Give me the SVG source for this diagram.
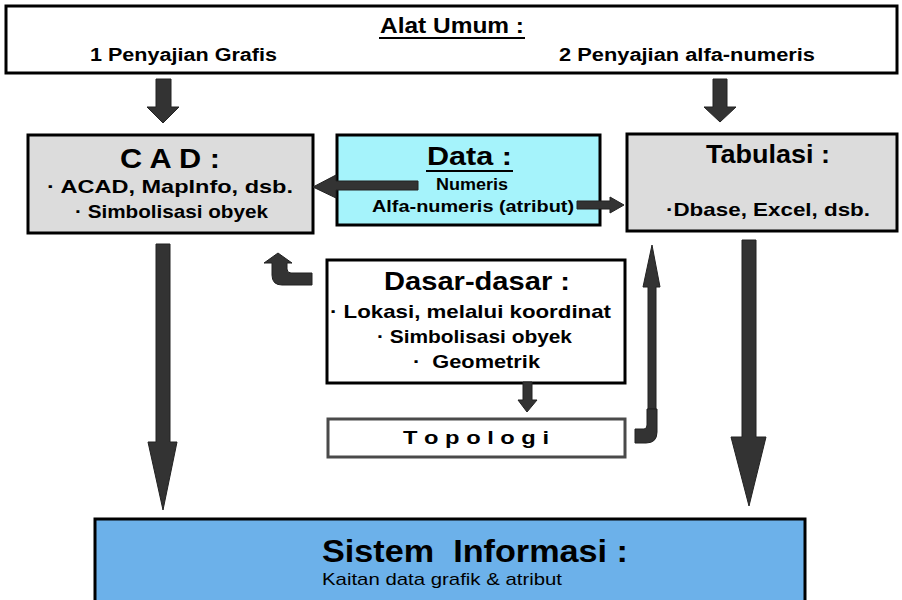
<svg xmlns="http://www.w3.org/2000/svg" width="902" height="600" viewBox="0 0 902 600">
<style>
text{font-family:"Liberation Sans",Arial,sans-serif;font-weight:bold;fill:#000}
.box{stroke:#000;stroke-width:3}
.arr{fill:#333;stroke:#222;stroke-width:1}
.t22{font-size:26px}
.t17{font-size:19px}
.t15{font-size:17px}
</style>
<rect width="902" height="600" fill="#fff"/>
<g id="alat-umum">
<rect class="box" x="6" y="6" width="891" height="67" fill="#fff"/>
<text x="380" y="33" style="font-size:22px" textLength="144" lengthAdjust="spacingAndGlyphs">Alat Umum :</text>
<line x1="379" y1="38" x2="525" y2="38" stroke="#000" stroke-width="2"/>
<text x="90" y="61" style="font-size:18px" textLength="187" lengthAdjust="spacingAndGlyphs">1 Penyajian Grafis</text>
<text x="559" y="61" style="font-size:18px" textLength="256" lengthAdjust="spacingAndGlyphs">2 Penyajian alfa-numeris</text>
</g>
<g id="cad">
<rect class="box" x="28" y="135" width="285" height="98" fill="#dcdcdc"/>
<text x="120" y="168" style="font-size:27px" textLength="100" lengthAdjust="spacingAndGlyphs">C A D :</text>
<text x="47" y="193" class="t17" textLength="246" lengthAdjust="spacingAndGlyphs">· ACAD, MapInfo, dsb.</text>
<text x="75" y="218" class="t17" textLength="193" lengthAdjust="spacingAndGlyphs">· Simbolisasi obyek</text>
</g>
<g id="data">
<rect class="box" x="337" y="135" width="263" height="90" fill="#a5f3fb"/>
<text x="427" y="165" class="t22" textLength="85" lengthAdjust="spacingAndGlyphs">Data :</text>
<line x1="426" y1="171" x2="513" y2="171" stroke="#000" stroke-width="2"/>
<text x="436" y="190" class="t15" textLength="72" lengthAdjust="spacingAndGlyphs">Numeris</text>
<text x="372" y="212" class="t15" textLength="202" lengthAdjust="spacingAndGlyphs">Alfa-numeris (atribut)</text>
</g>
<g id="tabulasi">
<rect class="box" x="627" y="134" width="270" height="97" fill="#dcdcdc"/>
<text x="706" y="163" class="t22" textLength="124" lengthAdjust="spacingAndGlyphs">Tabulasi :</text>
<text x="666" y="216" class="t17" textLength="204" lengthAdjust="spacingAndGlyphs">·Dbase, Excel, dsb.</text>
</g>
<g id="dasar-dasar">
<rect class="box" x="327" y="260" width="298" height="123" fill="#fff"/>
<text x="384" y="290" class="t22" textLength="186" lengthAdjust="spacingAndGlyphs">Dasar-dasar :</text>
<text x="330" y="318" class="t17" textLength="281" lengthAdjust="spacingAndGlyphs">· Lokasi, melalui koordinat</text>
<text x="377" y="343" class="t17" textLength="195" lengthAdjust="spacingAndGlyphs">· Simbolisasi obyek</text>
<text x="413" y="368" class="t17" textLength="127" lengthAdjust="spacingAndGlyphs" xml:space="preserve">·  Geometrik</text>
</g>
<g id="topologi">
<rect x="328" y="419" width="297" height="38" fill="#fff" stroke="#4a4a4a" stroke-width="3"/>
<text x="403" y="444" class="t17" textLength="146" lengthAdjust="spacingAndGlyphs">T o p o l o g i</text>
</g>
<g id="sistem-informasi">
<rect class="box" x="95" y="519" width="710" height="90" fill="#6cb1ea"/>
<text x="322" y="562" style="font-size:31px" textLength="306" lengthAdjust="spacingAndGlyphs" xml:space="preserve">Sistem  Informasi :</text>
<text x="322" y="585" style="font-size:17px;font-weight:normal" textLength="240" lengthAdjust="spacingAndGlyphs">Kaitan data grafik &amp; atribut</text>
</g>
<g id="connectors">
<polygon class="arr" points="156,79 171,79 171,107 179,107 163,123 147,107 156,107"/>
<polygon class="arr" points="713,79 727,79 727,107 736,107 720,122 704,107 713,107"/>
<polygon class="arr" points="418,181 418,190 336,190 336,198 313,187 336,175 336,181"/>
<polygon class="arr" points="577,201 610,201 610,197 624,205 610,213 610,209 577,209"/>
<polygon class="arr" points="156,244 170,244 170,442 177,442 163,510 148,442 156,442"/>
<polygon class="arr" points="742,240 756,240 756,437 766,437 749,506 731,437 742,437"/>
<polygon class="arr" points="523,382 532,382 532,400 537,400 527,412 518,400 523,400"/>
<path class="arr" d="M312 273 H291 Q287 273 287 269 V263 H292 L278 253 L264 263 H272 V275 Q272 285 282 285 H312 Z"/>
<path class="arr" d="M648 409 V287 H643 L652 245 L660 287 H656 V409 Z"/>
<path class="arr" d="M635 429 H644 Q647 429 647 425 V409 H657 V432 Q657 443 646 443 H635 Z"/>
</g>
</svg>
